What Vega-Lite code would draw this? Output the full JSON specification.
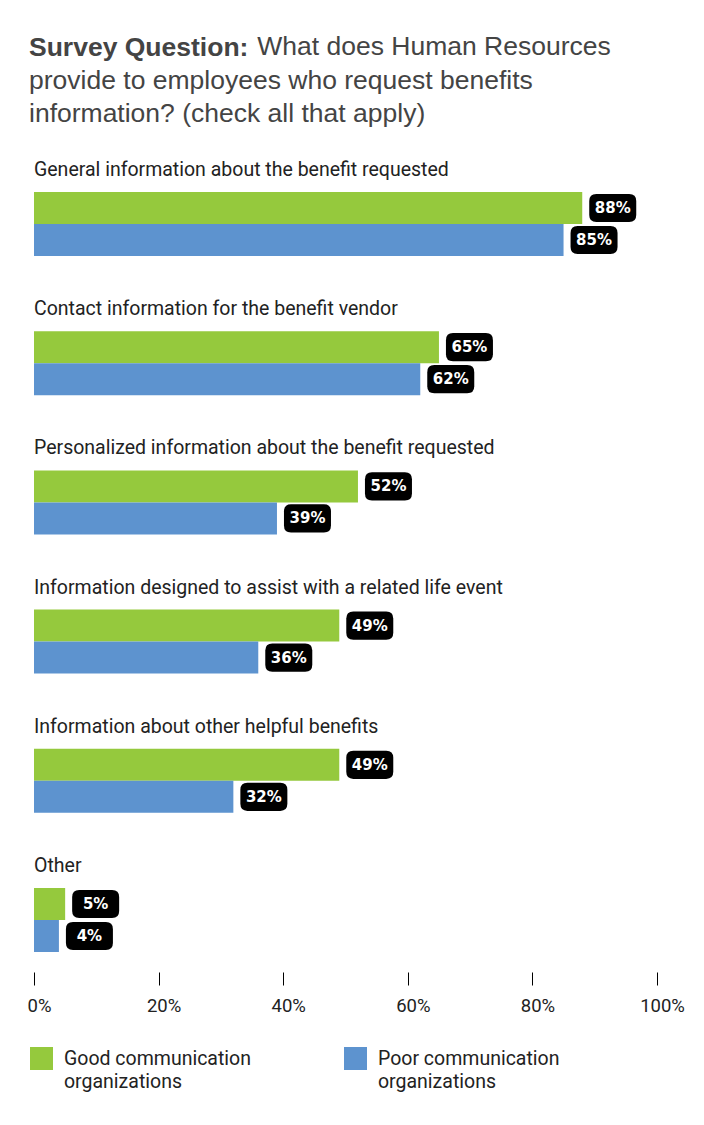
{
  "$schema": "https://vega.github.io/schema/vega-lite/v6.json",
  "width": 623,
  "height": 800,
  "autosize": {"type": "none"},
  "padding": {"left": 34, "top": 172, "right": 47, "bottom": 153},
  "background": "#ffffff",
  "title": {
    "text": "Survey Question:",
    "subtitle": [
      "\u200b\u00a0\u00a0\u00a0\u00a0\u00a0\u00a0\u00a0\u00a0\u00a0\u00a0\u00a0\u00a0\u00a0\u00a0\u00a0\u00a0\u00a0\u00a0\u00a0\u00a0\u00a0\u00a0\u00a0\u00a0\u00a0\u00a0\u00a0\u00a0\u00a0\u00a0\u00a0What does Human Resources",
      "provide to employees who request benefits",
      "information? (check all that apply)"
    ],
    "anchor": "start",
    "frame": "group",
    "dx": -5,
    "offset": 32,
    "font": "Liberation Sans",
    "fontSize": 26.5,
    "fontWeight": "bold",
    "color": "#444444",
    "lineHeight": 33.5,
    "subtitleFont": "Liberation Sans",
    "subtitleFontSize": 26.5,
    "subtitleFontWeight": "normal",
    "subtitleColor": "#444444",
    "subtitleLineHeight": 33.5,
    "subtitlePadding": -27
  },
  "data": {
    "values": [
      {"category": "General information about the benefit requested", "group": "Good communication organizations", "value": 0.88},
      {"category": "General information about the benefit requested", "group": "Poor communication organizations", "value": 0.85},
      {"category": "Contact information for the benefit vendor", "group": "Good communication organizations", "value": 0.65},
      {"category": "Contact information for the benefit vendor", "group": "Poor communication organizations", "value": 0.62},
      {"category": "Personalized information about the benefit requested", "group": "Good communication organizations", "value": 0.52},
      {"category": "Personalized information about the benefit requested", "group": "Poor communication organizations", "value": 0.39},
      {"category": "Information designed to assist with a related life event", "group": "Good communication organizations", "value": 0.49},
      {"category": "Information designed to assist with a related life event", "group": "Poor communication organizations", "value": 0.36},
      {"category": "Information about other helpful benefits", "group": "Good communication organizations", "value": 0.49},
      {"category": "Information about other helpful benefits", "group": "Poor communication organizations", "value": 0.32},
      {"category": "Other", "group": "Good communication organizations", "value": 0.05},
      {"category": "Other", "group": "Poor communication organizations", "value": 0.04}
    ]
  },
  "encoding": {
    "y": {
      "field": "category",
      "type": "nominal",
      "sort": null,
      "axis": null,
      "scale": {"paddingInner": 0.54, "paddingOuter": 0.1437}
    },
    "x": {
      "field": "value",
      "type": "quantitative",
      "scale": {"domain": [0, 1]},
      "axis": {
        "values": [0, 0.2, 0.4, 0.6, 0.8, 1],
        "format": ".0%",
        "domain": false,
        "grid": false,
        "ticks": true,
        "tickSize": 13,
        "tickColor": "#000000",
        "tickWidth": 1,
        "labelFont": "Roboto",
        "labelFontSize": 18.5,
        "labelColor": "#222222",
        "labelPadding": 11,
        "labelOffset": 5,
        "labelFlush": false,
        "title": null
      }
    }
  },
  "layer": [
    {
      "mark": {"type": "bar"},
      "encoding": {
        "yOffset": {"field": "group", "type": "nominal", "scale": {"paddingInner": 0}},
        "color": {
          "field": "group",
          "type": "nominal",
          "scale": {
            "domain": ["Good communication organizations", "Poor communication organizations"],
            "range": ["#95c93d", "#5d93cf"]
          },
          "legend": {
            "title": null,
            "orient": "none",
            "legendX": -4,
            "legendY": 875,
            "direction": "horizontal",
            "symbolType": "square",
            "symbolSize": 529,
            "symbolStrokeWidth": 0,
            "symbolOpacity": 1,
            "labelFont": "Roboto",
            "labelFontSize": 19.5,
            "labelColor": "#222222",
            "labelOffset": 11,
            "labelLimit": 400,
            "labelBaseline": "alphabetic",
            "labelExpr": "datum.label == 'Good communication organizations' ? ['Good communication', 'organizations'] : ['Poor communication', 'organizations']",
            "columnPadding": 93,
            "encode": {"labels": {"update": {"dy": {"value": 6}, "lineHeight": {"value": 23}}}}
          }
        }
      }
    },
    {
      "mark": {
        "type": "text",
        "align": "left",
        "baseline": "alphabetic",
        "dy": -16,
        "font": "Roboto",
        "fontSize": 19.5,
        "color": "#222222"
      },
      "transform": [{"filter": "datum.group == 'Good communication organizations'"}],
      "encoding": {
        "x": {"datum": 0},
        "y": {"field": "category", "type": "nominal", "sort": null, "bandPosition": 0},
        "text": {"field": "category"}
      }
    },
    {
      "mark": {
        "type": "point",
        "shape": "M-0.7,-0.6L0.7,-0.6Q1,-0.6,1,-0.3L1,0.3Q1,0.6,0.7,0.6L-0.7,0.6Q-1,0.6,-1,0.3L-1,-0.3Q-1,-0.6,-0.7,-0.6Z",
        "size": 2209,
        "filled": true,
        "fill": "#000000",
        "opacity": 1,
        "strokeWidth": 0,
        "xOffset": 30.5
      },
      "encoding": {
        "yOffset": {"field": "group", "type": "nominal", "scale": {"paddingInner": 0}}
      }
    },
    {
      "mark": {
        "type": "text",
        "align": "center",
        "baseline": "middle",
        "font": "DejaVu Sans",
        "fontWeight": "bold",
        "fontSize": 15,
        "color": "#ffffff",
        "xOffset": 30.5
      },
      "encoding": {
        "yOffset": {"field": "group", "type": "nominal", "scale": {"paddingInner": 0}},
        "text": {"field": "value", "type": "quantitative", "format": ".0%"}
      }
    }
  ],
  "config": {
    "view": {"stroke": null}
  }
}
